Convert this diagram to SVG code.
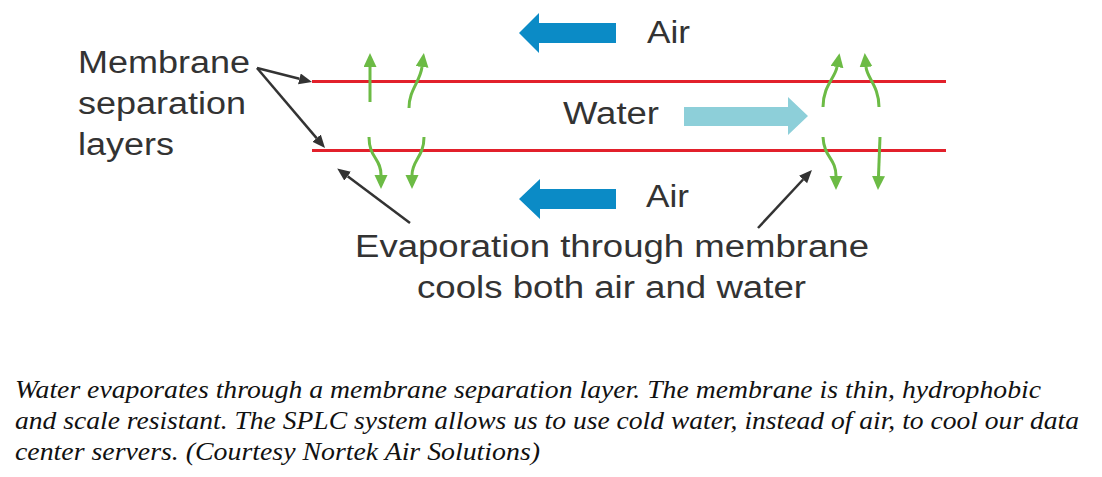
<svg xmlns="http://www.w3.org/2000/svg" width="1102" height="477" viewBox="0 0 1102 477">
  <style>
    .lbl { font-family: "Liberation Sans", Arial, sans-serif; font-size: 31px; fill: #333333; }
    .cap { font-family: "Liberation Serif", "Times New Roman", serif; font-style: italic; font-size: 26px; fill: #111111; }
    .mem { stroke: #e2202b; stroke-width: 3.2; fill: none; }
    .ptr { stroke: #333333; stroke-width: 2.5; fill: none; marker-end: url(#darkHead); }
    .evap { stroke: #6cbb45; stroke-width: 3; fill: none; marker-end: url(#greenHead); }
    .air { fill: #0b8bc6; }
    .water { fill: #8dcfd9; }
  </style>
  <defs>
    <marker id="darkHead" markerUnits="userSpaceOnUse" markerWidth="14" markerHeight="12" refX="0" refY="5.5" orient="auto">
      <path d="M0,0 L13,5.5 L0,11 z" fill="#333333"/>
    </marker>
    <marker id="greenHead" markerUnits="userSpaceOnUse" markerWidth="15" markerHeight="14" refX="0" refY="6.5" orient="auto">
      <path d="M0,0 L14,6.5 L0,13 z" fill="#6cbb45"/>
    </marker>
  </defs>
  <rect width="1102" height="477" fill="#ffffff"/>

  <g id="membrane-top"><line class="mem" x1="312" y1="81.5" x2="946" y2="81.5"/></g>
  <g id="membrane-bottom"><line class="mem" x1="312" y1="150.5" x2="946" y2="150.5"/></g>

  <g id="air-top">
    <polygon class="air" points="519,33 539,13 539,23 616,23 616,43 539,43 539,53"/>
    <text class="lbl" x="647" y="43" textLength="43" lengthAdjust="spacingAndGlyphs">Air</text>
  </g>
  <g id="air-bottom">
    <polygon class="air" points="519,199 540,179 540,189 616,189 616,209 540,209 540,219"/>
    <text class="lbl" x="646" y="207" textLength="43" lengthAdjust="spacingAndGlyphs">Air</text>
  </g>
  <g id="water">
    <text class="lbl" x="563" y="124" textLength="96" lengthAdjust="spacingAndGlyphs">Water</text>
    <polygon class="water" points="684,107 788,107 788,97 808,116 788,135 788,126 684,126"/>
  </g>

  <g id="membrane-label">
    <text class="lbl" x="78" y="73" textLength="172" lengthAdjust="spacingAndGlyphs">Membrane</text>
    <text class="lbl" x="78" y="114" textLength="168" lengthAdjust="spacingAndGlyphs">separation</text>
    <text class="lbl" x="78" y="155" textLength="96" lengthAdjust="spacingAndGlyphs">layers</text>
  </g>

  <g id="evaporation-label">
    <text class="lbl" x="355" y="257" textLength="514" lengthAdjust="spacingAndGlyphs">Evaporation through membrane</text>
    <text class="lbl" x="417" y="298" textLength="389" lengthAdjust="spacingAndGlyphs">cools both air and water</text>
  </g>

  <g id="connectors">
    <path class="ptr" d="M257,68 L299.4,78.8"/>
    <path class="ptr" d="M257,68 L316.6,138.1"/>
    <path class="ptr" d="M410,223 L347.6,176.2"/>
    <path class="ptr" d="M758,228 L803.1,179.5"/>

    <path class="evap" d="M370,102 L370,67"/>
    <path class="evap" d="M409,108 C409,90 420,82 422,67"/>
    <path class="evap" d="M369,137 C369,158 381,158 381,175"/>
    <path class="evap" d="M424,137 C424,157 412,160 412,175"/>
    <path class="evap" d="M823,107 C823,86 835,78 837,67"/>
    <path class="evap" d="M879,107 C879,86 867,78 866,67"/>
    <path class="evap" d="M823,137 C824,158 836,158 836,176"/>
    <path class="evap" d="M880,137 L878.5,176"/>
  </g>

  <g id="caption">
    <text class="cap" x="15" y="398" textLength="1026" lengthAdjust="spacingAndGlyphs">Water evaporates through a membrane separation layer. The membrane is thin, hydrophobic</text>
    <text class="cap" x="15" y="429" textLength="1064" lengthAdjust="spacingAndGlyphs">and scale resistant. The SPLC system allows us to use cold water, instead of air, to cool our data</text>
    <text class="cap" x="15" y="460" textLength="525" lengthAdjust="spacingAndGlyphs">center servers. (Courtesy Nortek Air Solutions)</text>
  </g>
</svg>
